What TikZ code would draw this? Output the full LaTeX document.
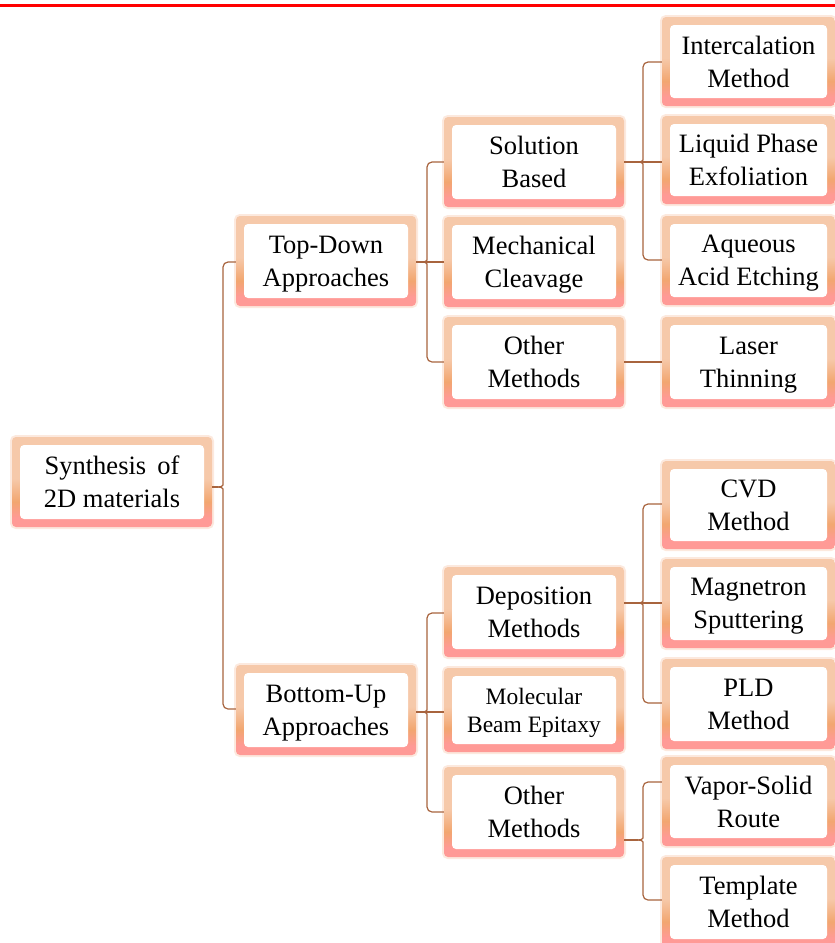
\documentclass[tikz,border=0pt]{standalone}
\usepackage{fontspec}
\setmainfont{Liberation Serif}
\usepackage{tikz}
\usetikzlibrary{positioning, calc}

\definecolor{bxpeach}{RGB}{246,201,170}
\definecolor{bxorange}{RGB}{242,166,112}
\definecolor{bxpink}{RGB}{255,154,150}
\definecolor{linkbrown}{RGB}{168,100,62}
\definecolor{glow}{RGB}{250,218,200}
\pgfdeclareverticalshading{boxshade}{100bp}{color(0bp)=(bxpink); color(25bp)=(bxpink); color(30bp)=(bxpink); color(39bp)=(bxorange); color(52bp)=(bxpeach); color(75bp)=(bxpeach); color(100bp)=(bxpeach)}

\begin{document}
\begin{tikzpicture}[x=1pt, y=-1pt,
        box/.style={rectangle, rounded corners=4pt, shading=boxshade, inner sep=0pt,
            align=center, minimum height=90pt, font=\fontsize{26.5}{33}\selectfont,
            text depth=0pt, preaction={draw=glow, line width=4pt, opacity=.6},
            path picture={\fill[white] ([shift={(8pt,-8pt)}]path picture bounding box.north west)
                rectangle ([shift={(-8pt,8pt)}]path picture bounding box.south east);}},
        rootbox/.style={box, minimum width=200pt},
        midbox/.style={box, minimum width=180pt},
        leafbox/.style={box, minimum width=173pt},
        link/.style={draw=linkbrown, line width=1.2pt}
    ]
        \useasboundingbox (0,0) rectangle (835,943);
        \draw[red, line width=3pt] (0,5.5) -- (835,5.5);

        % boxes
        \node[rootbox] (root) at (112,482) {Synthesis\, of\\2D materials};

        \node[midbox] (td) at (326,261) {Top-Down\\Approaches};
        \node[midbox] (bu) at (326,710) {Bottom-Up\\Approaches};

        \node[midbox] (sb)  at (534,162) {Solution\\Based};
        \node[midbox] (mc)  at (534,262) {Mechanical\\Cleavage};
        \node[midbox] (om1) at (534,362) {Other\\Methods};
        \node[midbox] (dm)  at (534,612) {Deposition\\Methods};
        \node[midbox, minimum height=84pt, font=\fontsize{23.5}{28}\selectfont] (mbe) at (534,710) {Molecular\\Beam Epitaxy};
        \node[midbox] (om2) at (534,812) {Other\\Methods};

        \node[leafbox, minimum height=89pt] (ic) at (748.5,61.5) {Intercalation\\Method};
        \node[leafbox, minimum height=88pt] (lp) at (748.5,160) {Liquid Phase\\Exfoliation};
        \node[leafbox, minimum height=89pt] (aa) at (748.5,260.5) {Aqueous\\Acid Etching};
        \node[leafbox] (lt) at (748.5,362) {Laser\\Thinning};
        \node[leafbox, minimum height=88pt] (cvd) at (748.5,505) {CVD\\Method};
        \node[leafbox, minimum height=89pt] (ms) at (748.5,603.5) {Magnetron\\Sputtering};
        \node[leafbox] (pld) at (748.5,704) {PLD\\Method};
        \node[leafbox, minimum height=89pt] (vs) at (748.5,801.5) {Vapor-Solid\\Route};
        \node[leafbox] (tm) at (748.5,902) {Template\\Method};

        % root -> approaches
        \draw[link, rounded corners=5pt] (td.west |- 0,262) -- (223,262) -- (223,480) .. controls (223,485) and (222,487) .. (218,487);
        \draw[link, rounded corners=5pt] (bu.west |- 0,709) -- (223,709) -- (223,494) .. controls (223,489) and (222,487) .. (218,487);
        \draw[link] (root.east |- 0,487) -- (218,487);

        % top-down
        \draw[link, rounded corners=5pt] (sb.west |- 0,162) -- (427,162) -- (427,255) .. controls (427,260) and (426,262) .. (422,262);
        \draw[link, rounded corners=5pt] (om1.west |- 0,362) -- (427,362) -- (427,269) .. controls (427,264) and (426,262) .. (422,262);
        \draw[link] (td.east |- 0,262) -- (mc.west |- 0,262);

        % bottom-up
        \draw[link, rounded corners=5pt] (dm.west |- 0,613) -- (427,613) -- (427,705) .. controls (427,710) and (426,712) .. (422,712);
        \draw[link, rounded corners=5pt] (om2.west |- 0,812) -- (427,812) -- (427,719) .. controls (427,714) and (426,712) .. (422,712);
        \draw[link] (bu.east |- 0,712) -- (mbe.west |- 0,712);

        % solution based
        \draw[link, rounded corners=5pt] (ic.west |- 0,62) -- (643,62) -- (643,155) .. controls (643,160) and (642,162) .. (638,162);
        \draw[link, rounded corners=5pt] (aa.west |- 0,260) -- (643,260) -- (643,169) .. controls (643,164) and (642,162) .. (638,162);
        \draw[link] (sb.east |- 0,162) -- (lp.west |- 0,162);

        % other methods (top)
        \draw[link] (om1.east |- 0,362) -- (lt.west |- 0,362);

        % deposition
        \draw[link, rounded corners=5pt] (cvd.west |- 0,504) -- (643,504) -- (643,596) .. controls (643,601) and (642,603) .. (638,603);
        \draw[link, rounded corners=5pt] (pld.west |- 0,703) -- (643,703) -- (643,610) .. controls (643,605) and (642,603) .. (638,603);
        \draw[link] (dm.east |- 0,603) -- (ms.west |- 0,603);

        % other methods (bottom)
        \draw[link, rounded corners=5pt] (vs.west |- 0,782) -- (643,782) -- (643,833) .. controls (643,838) and (642,840) .. (638,840);
        \draw[link, rounded corners=5pt] (tm.west |- 0,900) -- (643,900) -- (643,847) .. controls (643,842) and (642,840) .. (638,840);
        \draw[link] (om2.east |- 0,840) -- (638,840);
    \end{tikzpicture}
\end{document}
